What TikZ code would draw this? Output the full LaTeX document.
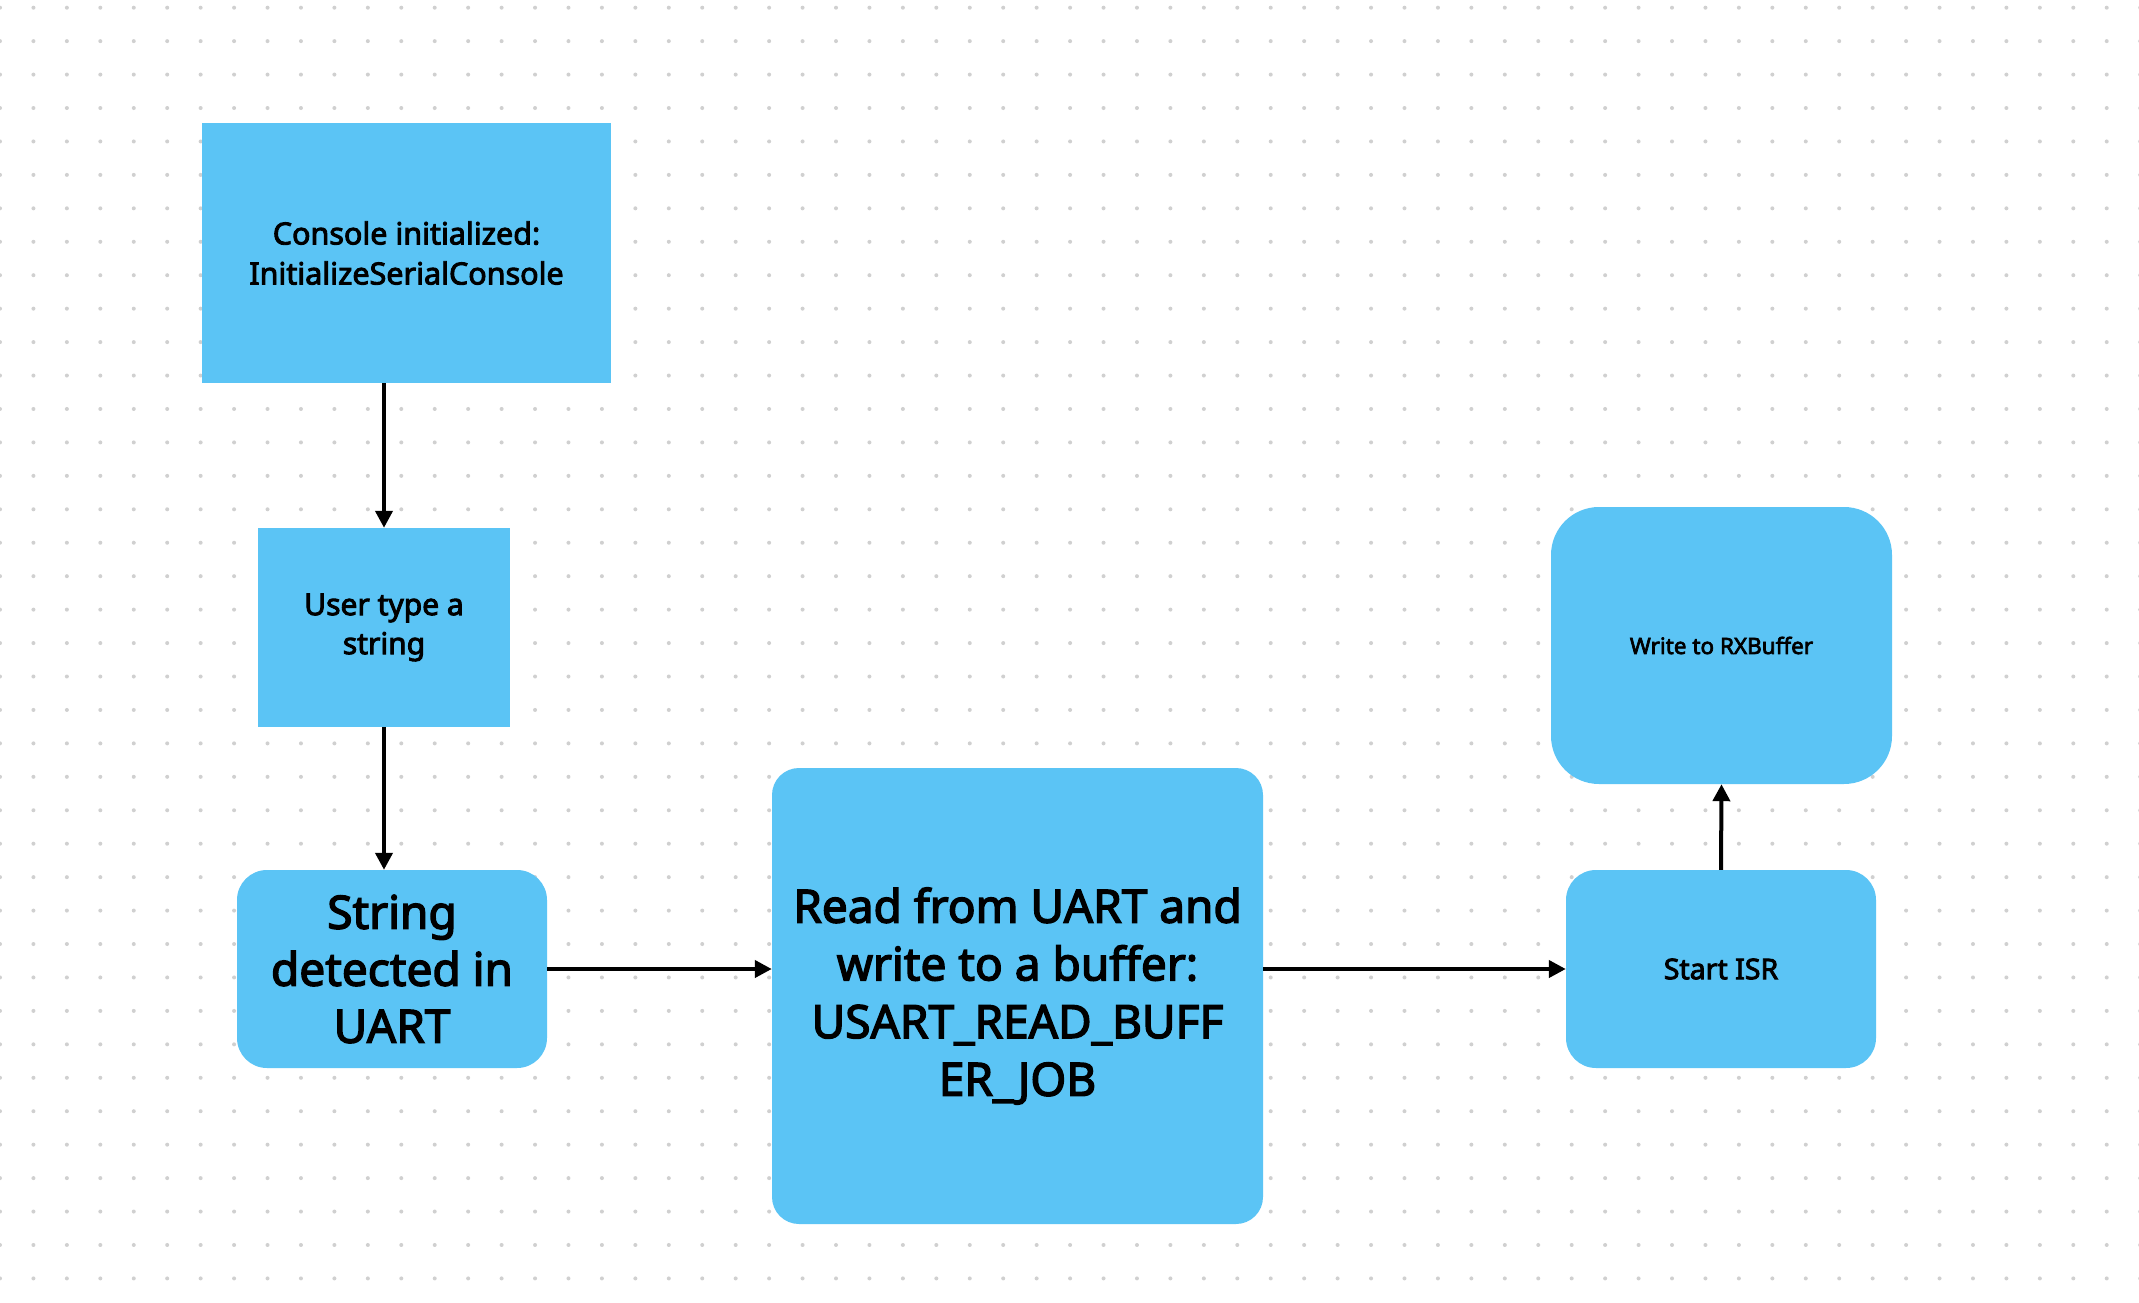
\documentclass[tikz,border=0pt]{standalone}
\usepackage{fontspec}
\setmainfont{Noto Sans}[UprightFeatures={FakeBold=3}]
\usetikzlibrary{arrows.meta}
\definecolor{boxblue}{RGB}{91,196,245}
\definecolor{dotgray}{RGB}{208,208,208}
\begin{document}
\begin{tikzpicture}[x=1pt,y=-1pt,
 boxnode/.style={fill=boxblue, draw=none, inner sep=0pt, align=center, text=black},
 conn/.style={line width=4pt, -{Triangle[length=17pt,width=17pt]}}
]
\useasboundingbox (0,0) rectangle (2139,1303);
\fill[white] (0,0) rectangle (2139,1303);
\foreach \i in {0,...,64}{\foreach \j in {0,...,38}{\fill[dotgray] (\i*33.44, 7.7+\j*33.44) circle (2);}}
\node[boxnode, minimum width=409pt, minimum height=260pt, font=\fontsize{30.5}{40}\selectfont] (console) at (406.5,253) {Console initialized:\\InitializeSerialConsole};
\node[boxnode, minimum width=252pt, minimum height=199pt, font=\fontsize{30}{39}\selectfont] (user) at (384,627.5) {User type a\\string};
\node[boxnode, rounded corners=30pt, minimum width=310pt, minimum height=198pt, font=\fontsize{46}{57}\selectfont] (string) at (392,969) {String\\detected in\\UART};
\node[boxnode, rounded corners=27pt, minimum width=491pt, minimum height=456pt, font=\fontsize{46}{57.7}\selectfont] (read) at (1017.5,996) {Read from UART and\\write to a buffer:\\USART\_READ\_BUFF\\ER\_JOB};
\node[boxnode, rounded corners=30pt, minimum width=310pt, minimum height=198pt, font=\fontsize{28.5}{34}\selectfont] (start) at (1721,969) {Start ISR};
\node[boxnode, rounded corners=48pt, minimum width=341pt, minimum height=277pt, font=\fontsize{22.5}{27}\selectfont] (write) at (1721.5,645.5) {Write to RXBuffer};
\draw[conn] (console.south -| user.north) -- (user.north);
\draw[conn] (user.south) -- (user.south |- string.north);
\draw[conn] (string.east) -- (string.east -| read.west);
\draw[conn] (read.east |- start.west) -- (start.west);
\draw[conn] (start.north) -- (write.south);
\end{tikzpicture}
\end{document}
